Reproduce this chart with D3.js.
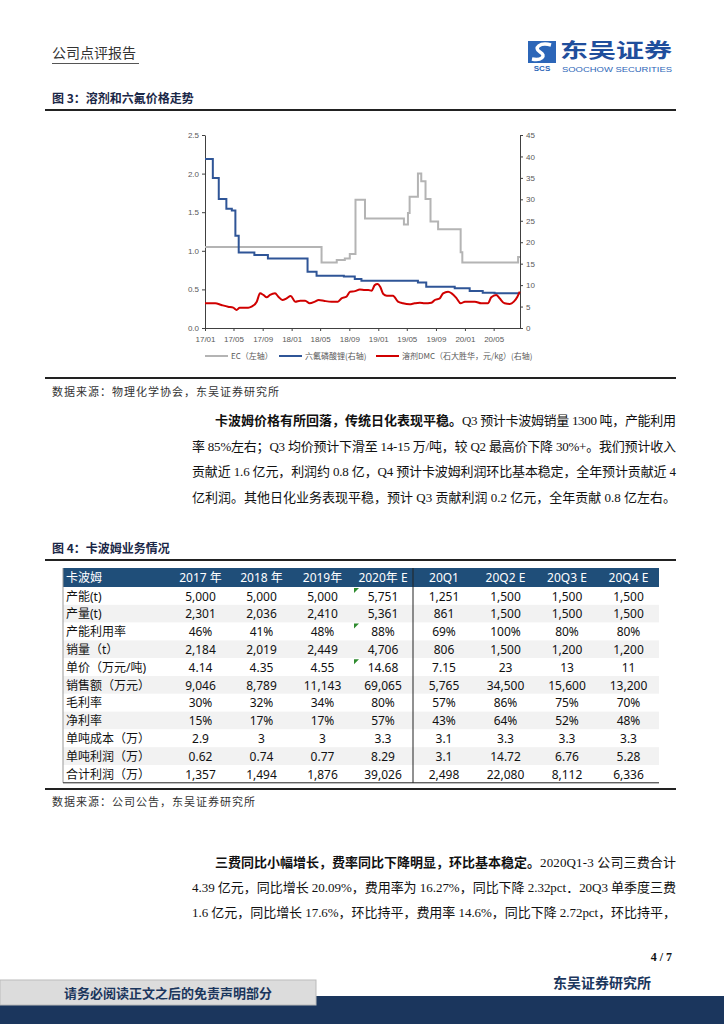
<!DOCTYPE html>
<meta charset="utf-8">
<style>
  body { margin: 0; background: #fff; }
  svg { display: block; }
</style>
<body>
<script src="https://d3js.org/d3.v7.min.js"></script>
<script>
// ---- chart data ----
var ecDates  = ["2017-01-01","2018-05-07","2018-07-10","2018-08-13","2018-09-03","2018-09-27","2018-11-06","2019-04-19","2019-05-06","2019-05-13","2019-06-17","2019-07-01","2019-07-19","2019-08-09","2019-09-10","2019-12-14","2019-12-21","2020-08-12","2020-08-20"];
var ecValues = [1.05,0.85,0.88,0.90,0.96,1.66,1.42,1.34,1.49,1.70,2.00,1.90,1.67,1.38,1.28,0.98,0.85,0.92,0.92];

var lfDates  = ["2017-01-01","2017-02-03","2017-02-28","2017-04-01","2017-04-24","2017-05-09","2017-05-23","2017-07-28","2017-09-23","2018-03-09","2018-04-16","2018-08-09","2018-09-24","2018-10-22","2019-06-17","2019-07-22","2019-11-19","2020-01-21","2020-03-16","2020-05-05","2020-08-20"];
var lfValues = [39.4,35.0,30.1,27.8,27.4,21.5,17.6,17.0,16.2,13.1,12.2,12.0,11.4,11.0,10.6,9.6,9.25,8.6,8.2,8.1,8.1];

var dmcDates = ["2017-01-01","2017-02-13","2017-03-11","2017-04-08","2017-04-30","2017-05-14","2017-05-27","2017-07-02","2017-07-16","2017-08-07",
  "2017-08-21","2017-09-04","2017-09-18","2017-10-02","2017-10-23","2017-11-06","2017-11-23","2017-12-11","2017-12-28","2018-01-16",
  "2018-02-06","2018-02-27","2018-03-18","2018-04-09","2018-04-25","2018-05-20","2018-06-18","2018-07-15","2018-07-30","2018-08-20",
  "2018-09-04","2018-09-25","2018-10-15","2018-11-06","2018-11-20","2018-12-04","2018-12-17","2018-12-29","2019-01-09","2019-01-22",
  "2019-02-06","2019-03-04","2019-03-25","2019-04-15","2019-05-13","2019-06-03","2019-06-25","2019-07-15","2019-08-13","2019-08-27",
  "2019-09-17","2019-10-01","2019-10-22","2019-11-06","2019-11-27","2019-12-14","2020-01-01","2020-02-12","2020-03-10","2020-04-07",
  "2020-04-21","2020-05-12","2020-05-26","2020-06-16","2020-07-08","2020-07-25","2020-08-09","2020-08-19"];
var dmcValues = [5.75,5.75,5.36,4.97,4.74,4.2,4.74,4.74,4.97,6.14,
  8.08,7.7,7.15,7.7,8.08,7.3,6.53,6.92,7.46,6.14,
  6.37,6.37,5.75,6.14,6.53,6.3,6.14,6.14,6.92,7.3,
  8.47,8.6,9.0,8.86,8.86,8.7,10.0,10.26,9.63,7.93,
  7.54,7.54,6.14,5.75,5.52,5.75,5.9,5.75,5.9,6.53,
  6.92,8.08,8.47,8.08,6.92,5.75,6.14,6.14,5.75,5.75,
  7.15,7.7,6.92,5.75,5.6,6.14,7.3,8.47];

var leftTicks  = [0, 0.5, 1.0, 1.5, 2.0, 2.5];
var rightTicks = [0, 5, 10, 15, 20, 25, 30, 35, 40, 45];
var legendNames = ["EC（左轴）", "六氟磷酸锂(右轴)", "溶剂DMC（石大胜华，元/kg）(右轴)"];

// ---- table data ----
var tableHeader = ["卡波姆", "2017 年", "2018 年", "2019年", "2020年 E", "20Q1", "20Q2 E", "20Q3 E", "20Q4 E"];
var rowNames = ["产能(t)", "产量(t)", "产能利用率", "销量（t）", "单价（万元/吨)", "销售额（万元）", "毛利率", "净利率", "单吨成本（万）", "单吨利润（万）", "合计利润（万）"];
var rowValues = [
  ["5,000","5,000","5,000","5,751","1,251","1,500","1,500","1,500"],
  ["2,301","2,036","2,410","5,361","861","1,500","1,500","1,500"],
  ["46%","41%","48%","88%","69%","100%","80%","80%"],
  ["2,184","2,019","2,449","4,706","806","1,500","1,200","1,200"],
  ["4.14","4.35","4.55","14.68","7.15","23","13","11"],
  ["9,046","8,789","11,143","69,065","5,765","34,500","15,600","13,200"],
  ["30%","32%","34%","80%","57%","86%","75%","70%"],
  ["15%","17%","17%","57%","43%","64%","52%","48%"],
  ["2.9","3","3","3.3","3.1","3.3","3.3","3.3"],
  ["0.62","0.74","0.77","8.29","3.1","14.72","6.76","5.28"],
  ["1,357","1,494","1,876","39,026","2,498","22,080","8,112","6,336"]
];
var commentRows = [0, 2, 4];

var CJK = "'Noto Sans CJK SC', sans-serif";
var TABLE = "'Noto Sans', 'Noto Sans CJK SC', sans-serif";
var SERIF = "'Liberation Serif', 'Noto Sans CJK SC', serif";

var svg = d3.select("body").append("svg").attr("width", 724).attr("height", 1024);

// ---- page header ----
svg.append("text").attr("x", 52).attr("y", 58).text("公司点评报告")
  .style("font-family", CJK).style("font-size", "14px").attr("fill", "#333");
svg.append("line").attr("x1", 52).attr("x2", 139).attr("y1", 63.5).attr("y2", 63.5)
  .attr("stroke", "#555").attr("stroke-width", 1);

// logo
var logo = svg.append("g");
logo.append("rect").attr("x", 528).attr("y", 41).attr("width", 28).attr("height", 22).attr("fill", "#2c66b8");
logo.append("path").attr("d", "M551,45 C540,42 533,48 540,52 C547,56 541,61 532,59")
  .attr("fill", "none").attr("stroke", "#fff").attr("stroke-width", 3.5);
logo.append("text").attr("x", 542).attr("y", 71).attr("text-anchor", "middle").text("SCS")
  .style("font-family", "'Liberation Sans', sans-serif").style("font-weight", "bold").style("font-size", "8px")
  .attr("fill", "#2c66b8");
logo.append("text").attr("x", 560).attr("y", 58).text("东吴证券")
  .style("font-family", CJK).style("font-weight", "bold").style("font-size", "20px").attr("fill", "#1f4e9c")
  .attr("textLength", 112).attr("lengthAdjust", "spacingAndGlyphs");
logo.append("text").attr("x", 562).attr("y", 72).text("SOOCHOW SECURITIES")
  .style("font-family", "'Liberation Sans', sans-serif").style("font-size", "8px").attr("fill", "#2c66b8")
  .attr("textLength", 110).attr("lengthAdjust", "spacingAndGlyphs");

// ---- figure 3 ----
svg.append("text").attr("x", 52).attr("y", 103).text("图 3：溶剂和六氟价格走势")
  .style("font-family", CJK).style("font-weight", "bold").style("font-size", "12px").attr("fill", "#1a2747");
svg.append("line").attr("x1", 45).attr("x2", 676).attr("y1", 110).attr("y2", 110).attr("stroke", "#222").attr("stroke-width", 2);

var parse = d3.timeParse("%Y-%m-%d");
var x = d3.scaleTime().domain([parse("2017-01-01"), parse("2020-08-20")]).range([205, 520]);
var yL = d3.scaleLinear().domain([0, 2.5]).range([328, 135]);
var yR = d3.scaleLinear().domain([0, 45]).range([328, 135]);

var tickFont = function (g) {
  g.selectAll("text").style("font-family", "'Liberation Sans', sans-serif").style("font-size", "8px").attr("fill", "#595959");
  g.selectAll("line").attr("stroke", "#404040");
  g.select(".domain").attr("stroke", "#404040");
};

svg.append("g").attr("transform", "translate(205,0)")
  .call(d3.axisLeft(yL).tickValues(leftTicks).tickFormat(d3.format(".1f")).tickSize(3).tickSizeOuter(0))
  .call(tickFont);
svg.append("g").attr("transform", "translate(520,0)")
  .call(d3.axisRight(yR).tickValues(rightTicks).tickSize(3).tickSizeOuter(0))
  .call(tickFont);
svg.append("g").attr("transform", "translate(0,328)")
  .call(d3.axisBottom(x).ticks(d3.timeMonth.every(4)).tickFormat(d3.timeFormat("%y/%m")).tickSize(3).tickSizeOuter(0))
  .call(tickFont)
  .selectAll("text").attr("dy", "1.0em");

function pairs(dates, values) {
  return dates.map(function (d, i) { return [parse(d), values[i]]; });
}

svg.append("path").datum(pairs(ecDates, ecValues))
  .attr("fill", "none").attr("stroke", "#b4b4b4").attr("stroke-width", 2)
  .attr("d", d3.line().x(function (d) { return x(d[0]); }).y(function (d) { return yL(d[1]); }).curve(d3.curveStepAfter));
svg.append("path").datum(pairs(lfDates, lfValues))
  .attr("fill", "none").attr("stroke", "#2f5597").attr("stroke-width", 2)
  .attr("d", d3.line().x(function (d) { return x(d[0]); }).y(function (d) { return yR(d[1]); }).curve(d3.curveStepAfter));
svg.append("path").datum(pairs(dmcDates, dmcValues))
  .attr("fill", "none").attr("stroke", "#d00000").attr("stroke-width", 2)
  .attr("d", d3.line().x(function (d) { return x(d[0]); }).y(function (d) { return yR(d[1]); }).curve(d3.curveMonotoneX));

// legend
var legColors = ["#b4b4b4", "#2f5597", "#d00000"];
var legX = [205, 279, 376];
legendNames.forEach(function (name, i) {
  svg.append("line").attr("x1", legX[i]).attr("x2", legX[i] + 23).attr("y1", 356).attr("y2", 356)
    .attr("stroke", legColors[i]).attr("stroke-width", 2);
  svg.append("text").attr("x", legX[i] + 26).attr("y", 359).text(name)
    .style("font-family", CJK).style("font-size", "8px").attr("fill", "#595959");
});

svg.append("line").attr("x1", 45).attr("x2", 676).attr("y1", 378).attr("y2", 378).attr("stroke", "#222").attr("stroke-width", 2);
svg.append("text").attr("x", 52).attr("y", 396).text("数据来源：物理化学协会，东吴证券研究所")
  .style("font-family", CJK).style("font-size", "11px").style("letter-spacing", "1px").attr("fill", "#333");

// ---- paragraphs ----
function paragraph(lines, y0, step) {
  lines.forEach(function (ln, i) {
    var y = y0 + i * step;
    var xs = ln.x;
    if (ln.bold) {
      var b = svg.append("text").attr("x", xs).attr("y", y).text(ln.bold)
        .style("font-family", CJK).style("font-weight", "bold").style("font-size", "13px").attr("fill", "#111");
      xs += b.node().getComputedTextLength();
    }
    var t = svg.append("text").attr("x", xs).attr("y", y).text(ln.text)
      .style("font-family", SERIF).style("font-size", "13px").attr("fill", "#111");
    if (ln.justify) t.attr("textLength", 676 - xs).attr("lengthAdjust", "spacing");
  });
}
paragraph([
  { x: 215, bold: "卡波姆价格有所回落，传统日化表现平稳。", text: "Q3 预计卡波姆销量 1300 吨，产能利用", justify: true },
  { x: 192, text: "率 85%左右；Q3 均价预计下滑至 14-15 万/吨，较 Q2 最高价下降 30%+。我们预计收入", justify: true },
  { x: 192, text: "贡献近 1.6 亿元，利润约 0.8 亿，Q4 预计卡波姆利润环比基本稳定，全年预计贡献近 4", justify: true },
  { x: 192, text: "亿利润。其他日化业务表现平稳，预计 Q3 贡献利润 0.2 亿元，全年贡献 0.8 亿左右。", justify: false }
], 425, 25.5);

// ---- figure 4 table ----
svg.append("text").attr("x", 52).attr("y", 553).text("图 4：卡波姆业务情况")
  .style("font-family", CJK).style("font-weight", "bold").style("font-size", "12px").attr("fill", "#1a2747");
svg.append("line").attr("x1", 45).attr("x2", 676).attr("y1", 560).attr("y2", 560).attr("stroke", "#222").attr("stroke-width", 2);

var colEdges = [63, 170, 231, 292, 353, 413, 475, 536, 598, 659];
var headTop = 568, headH = 19, rowH = 17.8;
var table = svg.append("g");
table.append("rect").attr("x", 63).attr("y", headTop).attr("width", 659 - 63).attr("height", headH).attr("fill", "#1f4e79");
tableHeader.forEach(function (h, j) {
  table.append("text")
    .attr("x", j === 0 ? 66 : (colEdges[j] + colEdges[j + 1]) / 2)
    .attr("y", headTop + 14)
    .attr("text-anchor", j === 0 ? "start" : "middle")
    .text(h).style("font-family", TABLE).style("font-size", "12px").attr("fill", "#fff");
});
rowNames.forEach(function (name, i) {
  var top = headTop + headH + i * rowH;
  table.append("rect").attr("x", 63).attr("y", top).attr("width", 659 - 63).attr("height", rowH)
    .attr("fill", i % 2 === 1 ? "#f2f2f2" : "#ffffff");
  table.append("text").attr("x", 66).attr("y", top + 13.5).text(name)
    .style("font-family", TABLE).style("font-size", "12px").attr("fill", "#111");
  rowValues[i].forEach(function (v, j) {
    table.append("text").attr("x", (colEdges[j + 1] + colEdges[j + 2]) / 2).attr("y", top + 13.5)
      .attr("text-anchor", "middle").text(v)
      .style("font-family", TABLE).style("font-size", "12px").attr("fill", "#111");
  });
});
commentRows.forEach(function (i) {
  var top = headTop + headH + i * rowH;
  table.append("path").attr("d", "M" + (colEdges[4] + 1) + "," + (top + 1) + " l5,0 l-5,5 z").attr("fill", "#2e8b2e");
});
var tableBottom = headTop + headH + rowNames.length * rowH;
table.append("line").attr("x1", 63).attr("x2", 63).attr("y1", headTop).attr("y2", tableBottom).attr("stroke", "#999");
table.append("line").attr("x1", 413).attr("x2", 413).attr("y1", headTop).attr("y2", tableBottom).attr("stroke", "#222");
table.append("line").attr("x1", 63).attr("x2", 659).attr("y1", tableBottom).attr("y2", tableBottom).attr("stroke", "#222");

svg.append("line").attr("x1", 45).attr("x2", 676).attr("y1", 789).attr("y2", 789).attr("stroke", "#222").attr("stroke-width", 2);
svg.append("text").attr("x", 52).attr("y", 806).text("数据来源：公司公告，东吴证券研究所")
  .style("font-family", CJK).style("font-size", "11px").style("letter-spacing", "1px").attr("fill", "#333");

paragraph([
  { x: 215, bold: "三费同比小幅增长，费率同比下降明显，环比基本稳定。", text: "2020Q1-3 公司三费合计", justify: true },
  { x: 192, text: "4.39 亿元，同比增长 20.09%，费用率为 16.27%，同比下降 2.32pct．20Q3 单季度三费", justify: true },
  { x: 192, text: "1.6 亿元，同比增长 17.6%，环比持平，费用率 14.6%，同比下降 2.72pct，环比持平，", justify: true }
], 867, 25);

// ---- footer ----
svg.append("text").attr("x", 672).attr("y", 961).attr("text-anchor", "end").text("4 / 7")
  .style("font-family", "'Liberation Serif', serif").style("font-weight", "bold").style("font-size", "12px").attr("fill", "#111");
svg.append("rect").attr("x", 0).attr("y", 996).attr("width", 724).attr("height", 28).attr("fill", "#1b365d");
svg.append("rect").attr("x", 0).attr("y", 980).attr("width", 316).attr("height", 25).attr("fill", "#dcdcdc")
  .attr("stroke", "#bbb").attr("stroke-width", 1);
svg.append("text").attr("x", 64).attr("y", 998).text("请务必阅读正文之后的免责声明部分")
  .style("font-family", CJK).style("font-weight", "bold").style("font-size", "13px").attr("fill", "#1b365d");
svg.append("text").attr("x", 553).attr("y", 988).text("东吴证券研究所")
  .style("font-family", CJK).style("font-weight", "bold").style("font-size", "14px").attr("fill", "#1b365d");
</script>
</body>
